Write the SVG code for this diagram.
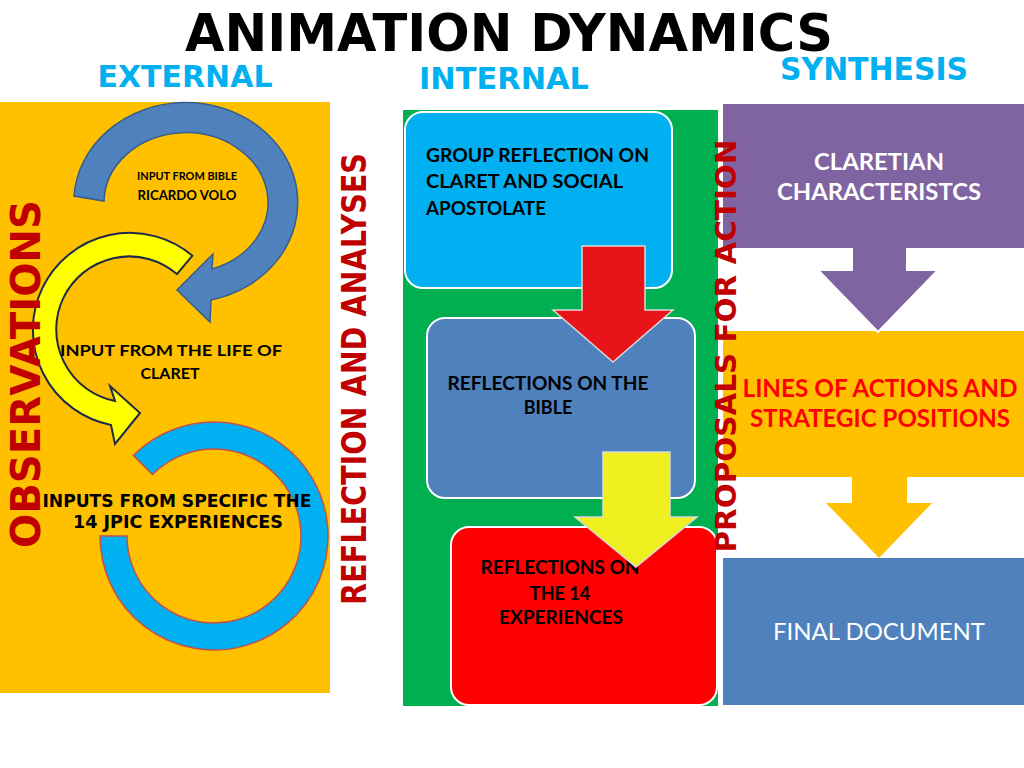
<svg xmlns="http://www.w3.org/2000/svg" width="1024" height="768" viewBox="0 0 1024 768">
<style>
.head{font-family:"DejaVu Sans","Liberation Sans",sans-serif;font-weight:bold;}
.sub{font-family:"DejaVu Sans","Liberation Sans",sans-serif;font-weight:bold;fill:#00B0F0;}
.vert{font-family:"DejaVu Sans","Liberation Sans",sans-serif;font-weight:bold;fill:#C00000;text-anchor:middle;}
.lbl{font-family:Lato,"Liberation Sans",sans-serif;font-weight:bold;fill:#000;}
.mid{text-anchor:middle;}
.box{stroke:#FFFFFF;stroke-width:2;}
</style>
<rect width="1024" height="768" fill="#FFFFFF"/>

<g id="title">
  <text class="head mid" x="509" y="51" font-size="51" textLength="648" lengthAdjust="spacingAndGlyphs" fill="#000">ANIMATION DYNAMICS</text>
  <text class="sub mid" x="185" y="87" font-size="30" textLength="175" lengthAdjust="spacingAndGlyphs">EXTERNAL</text>
  <text class="sub mid" x="504" y="89" font-size="31" textLength="170" lengthAdjust="spacingAndGlyphs">INTERNAL</text>
  <text class="sub mid" x="874" y="80" font-size="32" textLength="188" lengthAdjust="spacingAndGlyphs">SYNTHESIS</text>
</g>

<g id="panels">
  <rect id="panel-external" x="0" y="102" width="330" height="591" fill="#FFC000"/>
  <rect id="panel-internal" x="403" y="110" width="315" height="596" fill="#00B050"/>
</g>

<g id="node-group-reflection">
  <rect class="box" x="405" y="112" width="267" height="176" rx="18" fill="#00B0F0"/>
  <text class="lbl" font-size="18" x="426" y="162" textLength="223" lengthAdjust="spacingAndGlyphs">GROUP REFLECTION ON</text>
  <text class="lbl" font-size="18" x="426" y="188" textLength="197" lengthAdjust="spacingAndGlyphs">CLARET AND SOCIAL</text>
  <text class="lbl" font-size="18" x="426" y="215" textLength="120" lengthAdjust="spacingAndGlyphs">APOSTOLATE</text>
</g>
<g id="node-bible-reflection">
  <rect class="box" x="427" y="318" width="268" height="180" rx="18" fill="#4F81BD"/>
  <text class="lbl mid" font-size="18" x="548" y="390" textLength="201" lengthAdjust="spacingAndGlyphs">REFLECTIONS ON THE</text>
  <text class="lbl mid" font-size="18" x="548" y="414">BIBLE</text>
</g>
<g id="node-experiences-reflection">
  <rect class="box" x="451" y="527" width="266" height="178" rx="18" fill="#FF0000"/>
  <text class="lbl mid" font-size="18" x="560" y="574" textLength="159" lengthAdjust="spacingAndGlyphs">REFLECTIONS ON</text>
  <text class="lbl mid" font-size="18" x="560" y="600">THE 14</text>
  <text class="lbl mid" font-size="18" x="561" y="624" textLength="124" lengthAdjust="spacingAndGlyphs">EXPERIENCES</text>
</g>

<g id="node-claretian">
  <rect x="723" y="104" width="301" height="144" fill="#8064A2"/>
  <text class="lbl mid" font-size="22" x="879" y="170" style="fill:#FFFFFF" textLength="130" lengthAdjust="spacingAndGlyphs">CLARETIAN</text>
  <text class="lbl mid" font-size="22" x="879" y="200" style="fill:#FFFFFF" textLength="204" lengthAdjust="spacingAndGlyphs">CHARACTERISTCS</text>
</g>
<g id="node-lines">
  <rect x="723" y="331" width="301" height="146" fill="#FFC000"/>
  <text class="lbl mid" font-size="24" x="880" y="397" style="fill:#FF0000" textLength="275" lengthAdjust="spacingAndGlyphs">LINES OF ACTIONS AND</text>
  <text class="lbl mid" font-size="24" x="880" y="427" style="fill:#FF0000" textLength="260" lengthAdjust="spacingAndGlyphs">STRATEGIC POSITIONS</text>
</g>
<g id="node-final">
  <rect x="723" y="558" width="301" height="147" fill="#4F81BD"/>
  <text class="lbl mid" font-size="24" x="879" y="640" style="fill:#FFFFFF;font-weight:normal" textLength="212" lengthAdjust="spacingAndGlyphs">FINAL DOCUMENT</text>
</g>

<g id="connectors">
  <path id="arrow-bible" d="M74,196 A112 100 0 1 1 211,300 L210,322 L177,290 L213,254 L212,269 A82 70 0 1 0 104,201 Z" fill="#4F81BD" stroke="#385D8A" stroke-width="1.5"/>
  <path id="arrow-claret" d="M192.4,255.7 A97 97 0 1 0 111,425 L115,444 L140,413 L110,386 L115,401 A73 73 0 1 1 176.9,274.1 Z" fill="#FFFF00" stroke="#1F2A44" stroke-width="2"/>
  <path id="ring-jpic" d="M133.4,455.4 A114 114 0 1 1 100,536 L127,536 A87 87 0 1 0 152.5,474.5 Z" fill="#00B0F0" stroke="#C0504D" stroke-width="1.5"/>
  <path id="arrow-red" d="M582,246 L645,246 L645,310 L673,310 L613,362 L553,310 L582,310 Z" fill="#E8141A" stroke="#D9D9D9" stroke-width="1.5"/>
  <path id="arrow-yellow" d="M603,452 L670,452 L670,517 L697,517 L636,567 L575,517 L603,517 Z" fill="#F0F020" stroke="#D9D9D9" stroke-width="1.5"/>
  <path id="arrow-purple" d="M852,248 L852,270 L818,270 L878,332 L938,270 L907,270 L907,248" fill="#8064A2" stroke="#FFFFFF" stroke-width="2"/>
  <path id="arrow-orange" d="M852,476 L907,476 L907,503 L932,503 L879,558 L826,503 L852,503 Z" fill="#FFC000"/>
</g>

<g id="node-input-bible">
  <text class="lbl mid" font-size="11.5" x="187" y="180" textLength="100" lengthAdjust="spacingAndGlyphs">INPUT FROM BIBLE</text>
  <text class="lbl mid" font-size="12.5" x="187" y="200" textLength="99" lengthAdjust="spacingAndGlyphs">RICARDO VOLO</text>
</g>
<g id="node-input-claret">
  <text class="lbl mid" font-size="16" x="171" y="356" textLength="222" lengthAdjust="spacingAndGlyphs">INPUT FROM THE LIFE OF</text>
  <text class="lbl mid" font-size="16" x="170" y="379">CLARET</text>
</g>
<g id="node-input-jpic">
  <text class="head mid" font-size="18" x="177" y="507" textLength="269" lengthAdjust="spacingAndGlyphs" fill="#000">INPUTS FROM SPECIFIC THE</text>
  <text class="head mid" font-size="18" x="178" y="528" textLength="210" lengthAdjust="spacingAndGlyphs" fill="#000">14 JPIC EXPERIENCES</text>
</g>

<g id="stage-labels">
  <text class="vert" font-size="41" transform="translate(40,374) rotate(-90)" textLength="348" lengthAdjust="spacingAndGlyphs">OBSERVATIONS</text>
  <text class="vert" font-size="33" transform="translate(366,379) rotate(-90)" textLength="452" lengthAdjust="spacingAndGlyphs">REFLECTION AND ANALYSES</text>
  <text class="vert" font-size="28" transform="translate(736,346) rotate(-90)" textLength="413" lengthAdjust="spacingAndGlyphs">PROPOSALS FOR ACTION</text>
</g>
</svg>
